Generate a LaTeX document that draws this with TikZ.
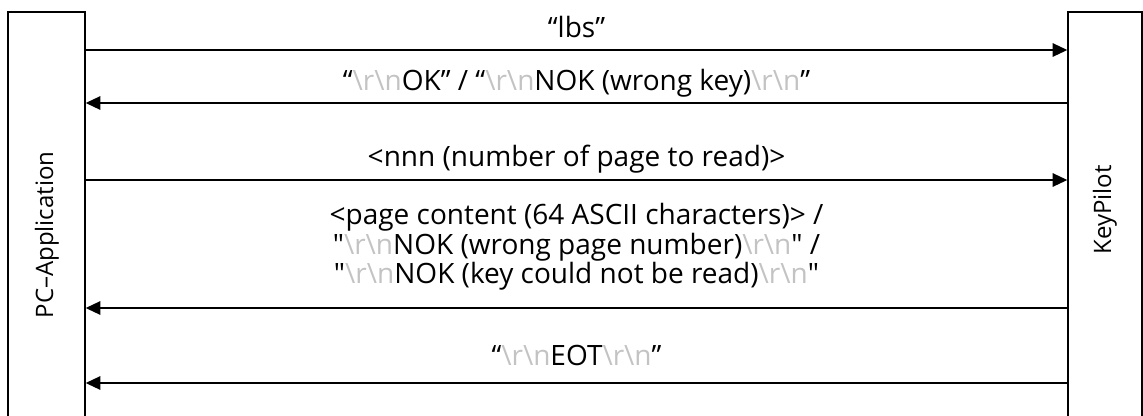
\documentclass[tikz,border=0pt]{standalone}
\usepackage{fontspec}
\setmainfont[Ligatures=TeXOff]{Open Sans}
\usetikzlibrary{arrows.meta}
\definecolor{escgray}{RGB}{195,195,195}
\newcommand{\crlf}{\textcolor{escgray}{\textbackslash r\textbackslash n}}
\tikzset{
  party/.style={draw,line width=1pt,minimum height=330pt,inner sep=0pt},
  partyname/.style={rotate=90,font=\fontsize{18}{18.75}\selectfont,inner sep=0pt},
  msg/.style={-{Triangle[length=11pt,width=10pt]},line width=1.4pt},
  msglabel/.style={font=\fontsize{21}{18.75}\selectfont,anchor=base,inner sep=0pt,align=center}
}

\begin{document}
\begin{tikzpicture}[x=0.75pt,y=-0.75pt]
  \useasboundingbox (0,0) rectangle (1143,415);

  \node[party,minimum width=57.75pt] (app) at (46.5,232) {};
  \node[party,minimum width=55.5pt] (pilot) at (1105,232) {};
  \node[partyname] (appname) at (47,235) {PC–Application};
  \node[partyname] (pilotname) at (1105,210) {KeyPilot};

  \coordinate (m1) at (0,50);
  \coordinate (m2) at (0,103);
  \coordinate (m3) at (0,180);
  \coordinate (m4) at (0,308);
  \coordinate (m5) at (0,383);

  \node[msglabel] (l1) at (576.5,37) {“lbs”};
  \node[msglabel] (l2) at (576.5,90) {“\crlf OK” / “\crlf NOK (wrong key)\crlf”};
  \node[msglabel] (l3) at (576.5,166) {<nnn (number of page to read)>};
  \node[msglabel,anchor=center] (l4) at (576.5,247)
    {<page content (64 ASCII characters)> /\\
     "\crlf NOK (wrong page number)\crlf" /\\
     "\crlf NOK (key could not be read)\crlf"};
  \node[msglabel] (l5) at (576.5,365) {“\crlf EOT\crlf”};

  \draw[msg] (app.east |- m1) -- (pilot.west |- m1);
  \draw[msg] (pilot.west |- m2) -- (app.east |- m2);
  \draw[msg] (app.east |- m3) -- (pilot.west |- m3);
  \draw[msg] (pilot.west |- m4) -- (app.east |- m4);
  \draw[msg] (pilot.west |- m5) -- (app.east |- m5);
\end{tikzpicture}
\end{document}
